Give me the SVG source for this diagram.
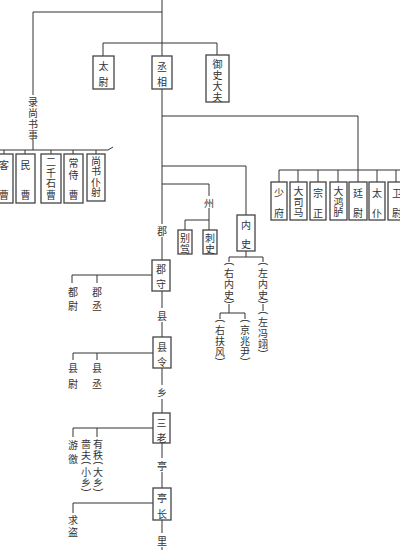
<svg xmlns="http://www.w3.org/2000/svg" width="400" height="550" viewBox="0 0 400 550">
<style>
.t{font-family:"Noto Sans CJK SC","Noto Sans CJK JP",sans-serif;font-size:10px;fill:#333;text-anchor:middle;dominant-baseline:central}
.p{font-family:"Liberation Sans",sans-serif;font-size:10px;fill:#333;text-anchor:middle;dominant-baseline:central}
.b{fill:#fff;stroke:#444;stroke-width:1.3}
.l{fill:none;stroke:#333;stroke-width:1}
</style>
<rect width="400" height="550" fill="#fff"/>
<g id="connectors" class="l">
<path d="M162,0V56M162,89V224M162,237V260M162,291V308M162,322V337M162,368V385M162,399V413M162,443V458M162,472V488M162,520V533M162,547V550"/>
<path d="M162,12H33V95M33,140V150"/>
<path d="M0,150H108L113,147M4,150V154M25,150V154M51,150V154M73,150V154M96,150V154"/>
<path d="M103,43H217M103,43V56M217,43V55"/>
<path d="M162,116H358V170M279,170H400M279,170V182M298,170V182M318,170V182M338,170V182M358,170V182M377,170V182M396,170V182"/>
<path d="M162,166H246V215"/>
<path d="M162,184H209V196M209,208V220H185V230M209,220V230"/>
<path d="M246,251V257M229,257H263M229,257V262M263,257V262M229,304V313M220,313H245M220,313V319M245,313V319M263,304V311"/>
<path d="M152,275H72V283M97,275V283"/>
<path d="M153,353H73V360M97,353V360"/>
<path d="M153,428H73V437M97,428V437"/>
<path d="M153,503H73V513"/>
</g>
<g id="taiwei"><rect class="b" x="93" y="56" width="21" height="33"/><text class="t"><tspan x="103.5" y="65">太</tspan><tspan x="103.5" y="81">尉</tspan></text></g>
<g id="chengxiang"><rect class="b" x="152" y="56" width="20" height="33"/><text class="t"><tspan x="162" y="66">丞</tspan><tspan x="162" y="81">相</tspan></text></g>
<g id="yushidafu"><rect class="b" x="206" y="55" width="23" height="47"/><text class="t"><tspan x="217.5" y="63">御</tspan><tspan x="217.5" y="74">史</tspan><tspan x="217.5" y="85">大</tspan><tspan x="217.5" y="96">夫</tspan></text></g>
<g id="lushangshushi"><text class="t"><tspan x="33" y="101">录</tspan><tspan x="33" y="112">尚</tspan><tspan x="33" y="123">书</tspan><tspan x="33" y="134">事</tspan></text></g>
<g id="kecao"><rect class="b" x="-5" y="154" width="18" height="49"/><text class="t"><tspan x="4" y="164">客</tspan><tspan x="4" y="194">曹</tspan></text></g>
<g id="mincao"><rect class="b" x="16" y="154" width="19" height="49"/><text class="t"><tspan x="25.5" y="164">民</tspan><tspan x="25.5" y="194">曹</tspan></text></g>
<g id="erqianshicao"><rect class="b" x="41" y="154" width="20" height="49"/><text class="t"><tspan x="51" y="161">二</tspan><tspan x="51" y="171.5">千</tspan><tspan x="51" y="182">石</tspan><tspan x="51" y="194">曹</tspan></text></g>
<g id="changshicao"><rect class="b" x="64" y="154" width="19" height="49"/><text class="t"><tspan x="73.5" y="162">常</tspan><tspan x="73.5" y="174">侍</tspan><tspan x="73.5" y="194">曹</tspan></text></g>
<g id="shangshupuye"><rect class="b" x="87" y="154" width="18" height="47"/><text class="t"><tspan x="96" y="159.5">尚</tspan><tspan x="96" y="170">书</tspan><tspan x="96" y="180.5">仆</tspan><tspan x="96" y="191">射</tspan></text></g>
<g id="shaofu"><rect class="b" x="271" y="182" width="16" height="38"/><text class="t"><tspan x="279" y="192">少</tspan><tspan x="279" y="212">府</tspan></text></g>
<g id="dasima"><rect class="b" x="290" y="182" width="17" height="38"/><text class="t"><tspan x="298.5" y="190">大</tspan><tspan x="298.5" y="200.5">司</tspan><tspan x="298.5" y="211">马</tspan></text></g>
<g id="zongzheng"><rect class="b" x="310" y="182" width="16" height="38"/><text class="t"><tspan x="318" y="192">宗</tspan><tspan x="318" y="212">正</tspan></text></g>
<g id="dahonglu"><rect class="b" x="330" y="182" width="17" height="38"/><text class="t"><tspan x="338.5" y="190">大</tspan><tspan x="338.5" y="200.5">鸿</tspan><tspan x="338.5" y="211">胪</tspan></text></g>
<g id="tingwei"><rect class="b" x="349" y="182" width="18" height="38"/><text class="t"><tspan x="358" y="192">廷</tspan><tspan x="358" y="212">尉</tspan></text></g>
<g id="taipu"><rect class="b" x="369" y="182" width="16" height="38"/><text class="t"><tspan x="377" y="192">太</tspan><tspan x="377" y="212">仆</tspan></text></g>
<g id="weiwei"><rect class="b" x="388" y="182" width="18" height="38"/><text class="t"><tspan x="397" y="192">卫</tspan><tspan x="397" y="212">尉</tspan></text></g>
<g id="zhou"><text class="t" x="209" y="202">州</text></g>
<g id="biejia"><rect class="b" x="178" y="230" width="14" height="24"/><text class="t"><tspan x="185" y="237">别</tspan><tspan x="185" y="248">驾</tspan></text></g>
<g id="cishi"><rect class="b" x="203" y="230" width="14" height="24"/><text class="t"><tspan x="210" y="237">刺</tspan><tspan x="210" y="248">史</tspan></text></g>
<g id="neishi"><rect class="b" x="237" y="215" width="18" height="36"/><text class="t"><tspan x="246" y="224">内</tspan><tspan x="246" y="243">史</tspan></text></g>
<g id="youneishi"><text class="p" transform="translate(229,264) rotate(90)">(</text><text class="t"><tspan x="229" y="272">右</tspan><tspan x="229" y="283">内</tspan><tspan x="229" y="294">史</tspan></text><text class="p" transform="translate(229,302) rotate(90)">)</text></g>
<g id="zuoneishi"><text class="p" transform="translate(263,264) rotate(90)">(</text><text class="t"><tspan x="263" y="272">左</tspan><tspan x="263" y="283">内</tspan><tspan x="263" y="294">史</tspan></text><text class="p" transform="translate(263,302) rotate(90)">)</text></g>
<g id="youfufeng"><text class="p" transform="translate(220,321) rotate(90)">(</text><text class="t"><tspan x="220" y="329">右</tspan><tspan x="220" y="340">扶</tspan><tspan x="220" y="351">风</tspan></text><text class="p" transform="translate(220,359) rotate(90)">)</text></g>
<g id="jingzhaoyin"><text class="p" transform="translate(245,321) rotate(90)">(</text><text class="t"><tspan x="245" y="329">京</tspan><tspan x="245" y="340">兆</tspan><tspan x="245" y="351">尹</tspan></text><text class="p" transform="translate(245,359) rotate(90)">)</text></g>
<g id="zuopingyi"><text class="p" transform="translate(263,313) rotate(90)">(</text><text class="t"><tspan x="263" y="321">左</tspan><tspan x="263" y="332">冯</tspan><tspan x="263" y="343">翊</tspan></text><text class="p" transform="translate(263,351) rotate(90)">)</text></g>
<g id="jun"><text class="t" x="162" y="230">郡</text></g>
<g id="junshou"><rect class="b" x="152" y="260" width="18" height="31"/><text class="t"><tspan x="161" y="268">郡</tspan><tspan x="161" y="283">守</tspan></text></g>
<g id="duwei"><text class="t"><tspan x="73" y="291">都</tspan><tspan x="73" y="305">尉</tspan></text></g>
<g id="juncheng"><text class="t"><tspan x="97" y="291">郡</tspan><tspan x="97" y="305">丞</tspan></text></g>
<g id="xian"><text class="t" x="162" y="315">县</text></g>
<g id="xianling"><rect class="b" x="153" y="337" width="18" height="31"/><text class="t"><tspan x="162" y="346">县</tspan><tspan x="162" y="361">令</tspan></text></g>
<g id="xianwei"><text class="t"><tspan x="73" y="367">县</tspan><tspan x="73" y="383">尉</tspan></text></g>
<g id="xiancheng"><text class="t"><tspan x="97" y="367">县</tspan><tspan x="97" y="383">丞</tspan></text></g>
<g id="xiang"><text class="t" x="162" y="392">乡</text></g>
<g id="sanlao"><rect class="b" x="153" y="413" width="17" height="30"/><text class="t"><tspan x="161.5" y="422">三</tspan><tspan x="161.5" y="437">老</tspan></text></g>
<g id="youjiao"><text class="t"><tspan x="73" y="444">游</tspan><tspan x="73" y="458">徼</tspan></text></g>
<g id="sefu"><text class="t"><tspan x="86" y="443">啬</tspan><tspan x="86" y="454">夫</tspan></text><text class="p" transform="translate(86,463) rotate(90)">(</text><text class="t"><tspan x="86" y="471">小</tspan><tspan x="86" y="482">乡</tspan></text><text class="p" transform="translate(86,490) rotate(90)">)</text></g>
<g id="youzhi"><text class="t"><tspan x="98" y="443">有</tspan><tspan x="98" y="454">秩</tspan></text><text class="p" transform="translate(98,463) rotate(90)">(</text><text class="t"><tspan x="98" y="471">大</tspan><tspan x="98" y="482">乡</tspan></text><text class="p" transform="translate(98,490) rotate(90)">)</text></g>
<g id="ting"><text class="t" x="162" y="465">亭</text></g>
<g id="tingzhang"><rect class="b" x="153" y="488" width="18" height="32"/><text class="t"><tspan x="162" y="497">亭</tspan><tspan x="162" y="513">长</tspan></text></g>
<g id="qiudao"><text class="t"><tspan x="73" y="519">求</tspan><tspan x="73" y="531">盗</tspan></text></g>
<g id="li"><text class="t" x="162" y="540">里</text></g>
</svg>
